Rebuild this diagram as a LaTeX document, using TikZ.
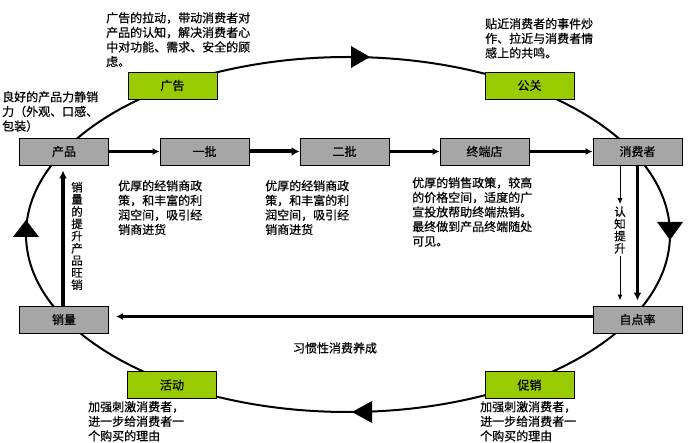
\documentclass[tikz,border=0pt]{standalone}
\usepackage{fontspec}
\setmainfont{Noto Sans CJK SC}[FakeBold=0.5]
\usetikzlibrary{arrows.meta}
\definecolor{boxgray}{RGB}{166,166,166}
\definecolor{boxgreen}{RGB}{153,204,0}
\tikzset{
  graybox/.style={draw=black, line width=0.9pt, fill=boxgray, minimum width=89pt, minimum height=27pt, inner sep=0pt, font=\fontsize{12}{14}\selectfont},
  greenbox/.style={graybox, fill=boxgreen},
  note/.style={anchor=north west, inner sep=0pt, align=left, font=\fontsize{12}{14.6}\selectfont},
  vtext/.style={inner sep=0pt, align=center, font=\fontsize{11.5}{12.2}\selectfont},
  flow/.style={-{Latex[length=7pt,width=7pt]}, line width=2.2pt},
  thinflow/.style={-{Latex[length=6pt,width=5pt]}, line width=1pt},
  bigtri/.style={fill=black, draw=none},
}
\begin{document}
\begin{tikzpicture}[x=1pt,y=-1pt]
\useasboundingbox (0,0) rectangle (698,443);
% cycle ellipse
\draw[line width=2pt] (348,234.5) ellipse [x radius=322, y radius=177.5];
\fill[bigtri] (370,57) -- (351,46) -- (351,68) -- cycle;
\fill[bigtri] (670,240) -- (657,222) -- (683,222) -- cycle;
\fill[bigtri] (352,412) -- (372,401) -- (372,423) -- cycle;
\fill[bigtri] (26,220) -- (13,237) -- (39,237) -- cycle;
% boxes
\node[greenbox] (gg) at (172.5,85.5) {广告};
\node[greenbox] (gx) at (529.5,85.5) {公关};
\node[graybox] (cp) at (64,151.5) {产品};
\node[graybox] (yp) at (204.5,151.5) {一批};
\node[graybox] (ep) at (344.5,151.5) {二批};
\node[graybox] (zd) at (484.5,151.5) {终端店};
\node[graybox] (xf) at (637.5,151.5) {消费者};
\node[graybox] (xl) at (64,319.5) {销量};
\node[graybox] (zl) at (637.5,319.5) {自点率};
\node[greenbox] (hd) at (172,385) {活动};
\node[greenbox] (cx) at (529.5,385) {促销};
% notes
\node[note] (n1) at (106,12) {广告的拉动，带动消费者对\\产品的认知，解决消费者心\\中对功能、需求、安全的顾\\虑。};
\node[note] (n2) at (2,91) {良好的产品力静销\\力（外观、口感、\\包装）};
\node[note] (n3) at (485,18) {贴近消费者的事件炒\\作、拉近与消费者情\\感上的共鸣。};
\node[note] (n4) at (118,180) {优厚的经销商政\\策，和丰富的利\\润空间，吸引经\\销商进货};
\node[note] (n5) at (265,180) {优厚的经销商政\\策，和丰富的利\\润空间，吸引经\\销商进货};
\node[note] (n6) at (412,177) {优厚的销售政策，较高\\的价格空间，适度的广\\宣投放帮助终端热销。\\最终做到产品终端随处\\可见。};
\node[note] (n7) at (88,401) {加强刺激消费者，\\进一步给消费者一\\个购买的理由};
\node[note] (n8) at (480,401) {加强刺激消费者，\\进一步给消费者一\\个购买的理由};
\node[inner sep=0pt, font=\fontsize{12}{14}\selectfont] (hb) at (335,348) {习惯性消费养成};
% flow arrows
\draw[flow] (cp) -- (yp);
\draw[flow, line width=4pt, -{Latex[length=8pt,width=9pt]}] (yp) -- (ep);
\draw[flow] (ep) -- (zd);
\draw[flow] (zd) -- (xf);
% 消费者 -> 自点率
\node[vtext, fill=white, inner ysep=2pt] (rz) at (620,230) {认\\知\\提\\升};
\draw[thinflow] ([xshift=-17.5pt]xf.south) -- (rz.north);
\draw[thinflow, shorten >=5pt] (rz.south) -- ([xshift=-17.5pt]zl.north);
\draw[-{Latex[length=8pt,width=8pt]}, line width=3.2pt, shorten >=5pt] (xf.south) -- (zl.north);
% 销量 -> 产品
\draw[-{Latex[length=8pt,width=8pt]}, line width=3.2pt, shorten >=5pt] ([xshift=-1pt]xl.north) -- ([xshift=-1pt]cp.south);
\node[vtext] (xs) at (77,236) {销\\量\\的\\提\\升\\产\\品\\旺\\销};
% 自点率 -> 销量
\draw[flow, shorten >=7pt] ([yshift=3pt]zl.west) -- ([yshift=3pt]xl.east);
\end{tikzpicture}
\end{document}
